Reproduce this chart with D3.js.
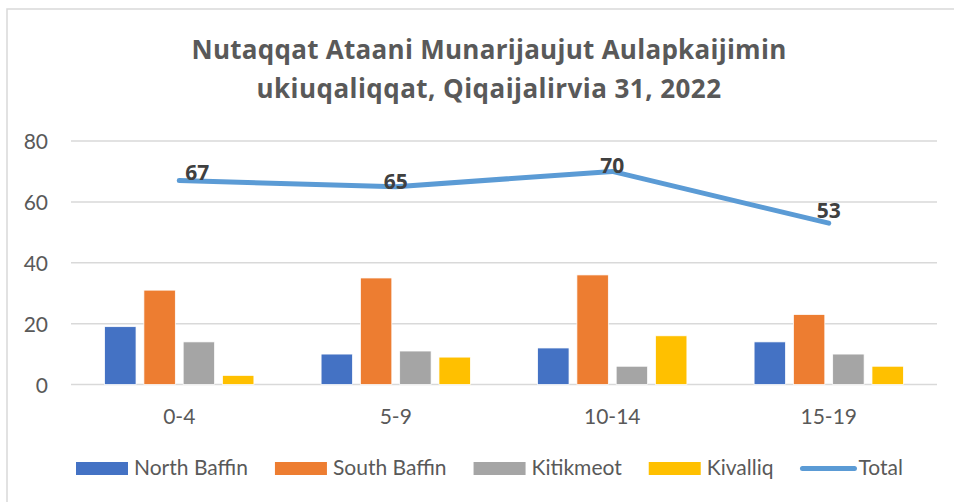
<!DOCTYPE html>
<html>
<head>
<meta charset="utf-8">
<script src="https://cdn.jsdelivr.net/npm/d3@7"></script>
<style>
  body { margin: 0; background: #fff; }
  svg { display: block; font-family: Lato, "Open Sans", sans-serif; }
</style>
</head>
<body>
<div id="chart"></div>
<script>
let width = 954;
let height = 502;

// data
let ageGroups = ['0-4', '5-9', '10-14', '15-19'];
let regions = ['North Baffin', 'South Baffin', 'Kitikmeot', 'Kivalliq'];
let northBaffin = [19, 10, 12, 14];
let southBaffin = [31, 35, 36, 23];
let kitikmeot = [14, 11, 6, 10];
let kivalliq = [3, 9, 16, 6];
let total = [67, 65, 70, 53];
let yTicks = [0, 20, 40, 60, 80];

let colors = ['#4472c4', '#ed7d31', '#a5a5a5', '#ffc000'];
let lineColor = '#5b9bd5';
let textColor = '#595959';
// hand-placed data labels in the original
let labelNudge = [[18, -1], [0, 2], [0, 2], [0, -5]];

let seriesValues = [northBaffin, southBaffin, kitikmeot, kivalliq];

let svg = d3.select('#chart')
    .append('svg')
        .attr('width', width)
        .attr('height', height);

// chart frame
svg.append('rect')
    .attr('x', 7).attr('y', 9)
    .attr('width', 1000).attr('height', 1000)
    .attr('fill', 'none')
    .attr('stroke', '#d9d9d9')
    .attr('stroke-width', 1.5);

// title (Calibri in the original is wider, so stretch to its width)
let titleLines = [['Nutaqqat Ataani Munarijaujut Aulapkaijimin', 59, 595],
                  ['ukiuqaliqqat, Qiqaijalirvia 31, 2022', 98, 465]];
titleLines.forEach((l) => {
    let t = svg.append('text')
        .attr('x', 489).attr('y', l[1])
        .attr('text-anchor', 'middle')
        .attr('fill', textColor)
        .attr('font-family', '"Open Sans", sans-serif')
        .attr('font-weight', 'bold')
        .attr('font-size', 26)
        .text(l[0]);
    let w = t.node().getComputedTextLength();
    t.attr('letter-spacing', ((l[2] - w) / l[0].length) + 'px');
});

let x0 = d3.scaleBand().domain(ageGroups).range([71, 937]);
let x1 = d3.scaleBand().domain(regions).range([0, x0.bandwidth()])
    .paddingInner(0.2).paddingOuter(0.855);
let y = d3.scaleLinear().domain([0, 80]).range([384.5, 141]);

// gridlines
svg.append('g')
    .selectAll('line')
    .data(yTicks)
    .enter().append('line')
        .attr('x1', 71).attr('x2', 937)
        .attr('y1', (d) => { return y(d); })
        .attr('y2', (d) => { return y(d); })
        .attr('stroke', '#d9d9d9')
        .attr('stroke-width', 1.5);

// y axis labels
let yAxis = svg.append('g')
    .attr('transform', 'translate(48,0)')
    .call(d3.axisLeft(y).tickValues(yTicks).tickSize(0).tickPadding(0));
yAxis.select('.domain').remove();
yAxis.selectAll('text')
    .attr('font-family', 'Lato, sans-serif')
    .attr('font-size', 21)
    .attr('fill', textColor)
    .attr('dy', '0.36em');

// x axis labels
let xAxis = svg.append('g')
    .attr('transform', 'translate(0,' + 404 + ')')
    .call(d3.axisBottom(x0).tickSize(0).tickPadding(0));
xAxis.select('.domain').remove();
xAxis.selectAll('text')
    .attr('font-family', 'Lato, sans-serif')
    .attr('font-size', 21)
    .attr('fill', textColor)
    .attr('dy', '0.95em');

// bars
let groups = svg.append('g')
    .selectAll('g')
    .data(ageGroups)
    .enter().append('g')
        .attr('transform', (d) => { return 'translate(' + x0(d) + ',0)'; });

groups.selectAll('rect')
    .data((d, i) => { return regions.map((r, k) => { return {region: r, value: seriesValues[k][i], k: k}; }); })
    .enter().append('rect')
        .attr('x', (d) => { return x1(d.region); })
        .attr('width', x1.bandwidth())
        .attr('y', (d) => { return y(d.value); })
        .attr('height', (d) => { return y(0) - y(d.value); })
        .attr('fill', (d) => { return colors[d.k]; })
        .attr('stroke', '#fff')
        .attr('stroke-width', 0.75);

// total line
let line = d3.line()
    .x((d, i) => { return x0(ageGroups[i]) + x0.bandwidth() / 2; })
    .y((d) => { return y(d); });

svg.append('path')
    .datum(total)
    .attr('d', line)
    .attr('fill', 'none')
    .attr('stroke', lineColor)
    .attr('stroke-width', 5)
    .attr('stroke-linecap', 'round')
    .attr('stroke-linejoin', 'round');

svg.append('g')
    .selectAll('text')
    .data(total)
    .enter().append('text')
        .attr('x', (d, i) => { return x0(ageGroups[i]) + x0.bandwidth() / 2 + labelNudge[i][0]; })
        .attr('y', (d, i) => { return y(d) + labelNudge[i][1]; })
        .attr('text-anchor', 'middle')
        .attr('font-family', '"Open Sans", sans-serif')
        .attr('font-weight', 'bold')
        .attr('font-size', 21)
        .attr('fill', '#404040')
        .text((d) => { return d; });

// legend
let legendItems = regions.concat(['Total']);
let legend = svg.append('g').attr('transform', 'translate(0,475)');
let lx = 76;
legendItems.forEach((name, i) => {
    let item = legend.append('g').attr('transform', 'translate(' + lx + ',0)');
    if (i < regions.length) {
        item.append('rect')
            .attr('x', 0).attr('y', -13)
            .attr('width', 52).attr('height', 13)
            .attr('fill', colors[i]);
    } else {
        item.append('line')
            .attr('x1', 2).attr('x2', 54)
            .attr('y1', -6.5).attr('y2', -6.5)
            .attr('stroke', lineColor)
            .attr('stroke-width', 5)
            .attr('stroke-linecap', 'round');
    }
    let t = item.append('text')
        .attr('x', 58).attr('y', 0)
        .attr('font-size', 21)
        .attr('fill', textColor)
        .text(name);
    lx += 58 + t.node().getComputedTextLength() + 27;
});
</script>
</body>
</html>
